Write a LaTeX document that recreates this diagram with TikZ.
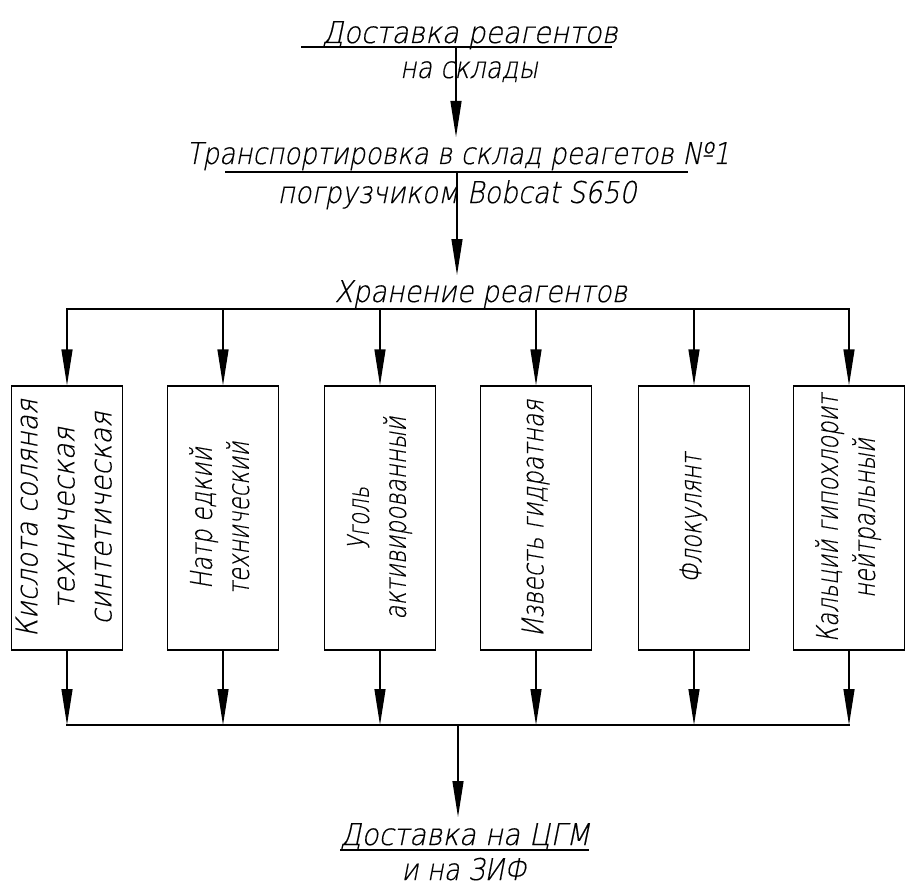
\documentclass[tikz,border=0pt]{standalone}
\usepackage{fontspec}
\setmainfont{Liberation Sans}
\newfontfamily\gostfam{DejaVu Sans ExtraLight}[FakeSlant=0.22,FakeBold=0.4]
\usetikzlibrary{arrows.meta}
\newcommand\gostfont{\gostfam\fontsize{30}{37}\selectfont}
\newcommand\fw[2]{\resizebox{#1pt}{\height}{#2}}
\begin{document}
\begin{tikzpicture}[x=1pt,y=-1pt,
  ln/.style={line width=1.3pt},
  arr/.style={line width=1.3pt,-{Triangle[length=36pt,width=11pt]}},
  txt/.style={inner sep=0pt,anchor=base,font=\gostfont},
  box/.style={draw,line width=1.3pt,minimum width=111pt,minimum height=264pt,inner sep=0pt,font=\gostfont}]
\useasboundingbox (0,0) rectangle (907,888);
% top texts
\node[txt] (t1) at (470,43) {\fw{296}{Доставка реагентов}};
\node[txt] (t1b) at (469,78) {\fw{138}{на склады}};
\coordinate (u1l) at (301,47); \coordinate (u1r) at (612,47);
\draw[ln] (u1l) -- (u1r);
\coordinate (u1) at (456,47); \coordinate (a1) at (456,137);
\draw[arr] (u1) -- (a1);
\node[txt] (t2) at (458,164) {\fw{543}{Транспортировка в склад реагетов №1}};
\node[txt] (t2b) at (457,203) {\fw{359}{погрузчиком Bobcat S650}};
\coordinate (u2l) at (225,172); \coordinate (u2r) at (688,172);
\draw[ln] (u2l) -- (u2r);
\coordinate (u2) at (457,172); \coordinate (a2) at (457,275);
\draw[arr] (u2) -- (a2);
\node[txt] (t3) at (481,302) {\fw{293}{Хранение реагентов}};
% bus
\coordinate (busL) at (66,309); \coordinate (busR) at (850,309);
\draw[ln] (busL) -- (busR);
% boxes
\node[box] (b1) at (67,518) {\rotatebox{90}{\begin{tabular}{@{}c@{}}\fw{238}{Кислота соляная}\\\fw{182}{техническая}\\\fw{213}{синтетическая}\end{tabular}}};
\node[box] (b2) at (223,518) {\rotatebox{90}{\begin{tabular}{@{}c@{}}\fw{142}{Натр едкий}\\\fw{153}{технический}\end{tabular}}};
\node[box] (b3) at (380,518) {\rotatebox{90}{\begin{tabular}{@{}c@{}}\fw{63}{Уголь}\\\fw{203}{активированный}\end{tabular}}};
\node[box] (b4) at (536,518) {\rotatebox{90}{\begin{tabular}{@{}c@{}}\fw{237}{Известь гидратная}\end{tabular}}};
\node[box] (b5) at (694,518) {\rotatebox{90}{\begin{tabular}{@{}c@{}}\fw{130}{Флокулянт}\end{tabular}}};
\node[box] (b6) at (849,518) {\rotatebox{90}{\begin{tabular}{@{}c@{}}\fw{248}{Кальций гипохлорит}\\\fw{160}{нейтральный}\end{tabular}}};
\foreach \i in {1,...,6}{
  \draw[arr] (b\i.north |- busL) -- (b\i.north);
}
% lower bus
\coordinate (bus2L) at (66,725); \coordinate (bus2R) at (850,725);
\foreach \i in {1,...,6}{
  \draw[arr] (b\i.south) -- (b\i.south |- bus2L);
}
\draw[ln] (bus2L) -- (bus2R);
\coordinate (u3) at (458,725); \coordinate (a3) at (458,817);
\draw[arr] (u3) -- (a3);
\node[txt] (t4) at (465,845) {\fw{250}{Доставка на ЦГМ}};
\node[txt] (t4b) at (464,880) {\fw{125}{и на ЗИФ}};
\coordinate (u4l) at (340,850); \coordinate (u4r) at (589,850);
\draw[ln] (u4l) -- (u4r);
\end{tikzpicture}
\end{document}
